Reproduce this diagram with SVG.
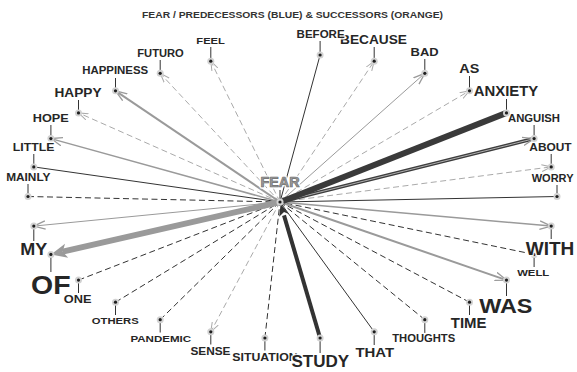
<svg xmlns="http://www.w3.org/2000/svg" width="577" height="372" viewBox="0 0 577 372">
<defs>
<style>
.lbl{font-family:"Liberation Sans",Arial,sans-serif;font-weight:bold;fill:#262626;text-anchor:middle;stroke:#fff;stroke-width:3;stroke-opacity:.85;paint-order:stroke;stroke-linejoin:round}
.title{font-family:"Liberation Sans",Arial,sans-serif;font-weight:bold;fill:#333;text-anchor:middle}
.tick{stroke:#333;stroke-width:1}
.halo{fill:#d2d2d2}
.dot{fill:#1e1e1e}
.sd{stroke:#333;stroke-width:1;fill:none}
.dd{stroke:#333;stroke-width:1;stroke-dasharray:6 3.5;fill:none}
.dl{stroke:#aaa;stroke-width:1;stroke-dasharray:6 3.5;fill:none;marker-end:url(#al)}
.sg{stroke:#9a9a9a;fill:none;marker-end:url(#ag)}
</style>
<marker id="al" viewBox="0 0 10 8" refX="9.5" refY="4" markerWidth="10" markerHeight="8" orient="auto" markerUnits="userSpaceOnUse"><path d="M0,0.6 L9.5,4 L0,7.4" fill="none" stroke="#aaa" stroke-width="1"/></marker>
<marker id="ag" viewBox="0 0 12 10" refX="11.5" refY="5" markerWidth="12" markerHeight="10" orient="auto" markerUnits="userSpaceOnUse"><path d="M0,0.8 L11.5,5 L0,9.2" fill="none" stroke="#9a9a9a" stroke-width="1.3"/></marker>
</defs>
<rect width="577" height="372" fill="#fff"/>
<text class="title" x="292.5" y="17.5" font-size="8.8" textLength="301" lengthAdjust="spacingAndGlyphs">FEAR / PREDECESSORS (BLUE) &amp; SUCCESSORS (ORANGE)</text>
<g id="connectors">
<path class="dd" d="M28,196.5 L280,202"/>
<path class="dd" d="M78.5,280.1 L280,202"/>
<path class="dd" d="M115.5,302.2 L280,202"/>
<path class="dd" d="M160.2,319.7 L280,202"/>
<path class="dd" d="M264.9,338 L280,202"/>
<path class="dd" d="M424.8,319.7 L280,202"/>
<path class="dd" d="M469.5,302.2 L280,202"/>
<path class="dd" d="M534.1,254.4 L280,202"/>
<path class="dl" d="M280,202 L210.8,61.2"/>
<path class="dl" d="M280,202 L160.2,73.3"/>
<path class="dl" d="M280,202 L78.5,112.9"/>
<path class="dl" d="M280,202 L210.8,331.8"/>
<path class="dl" d="M280,202 L374.2,61.2"/>
<path class="dl" d="M280,202 L469.5,90.8"/>
<path class="dl" d="M280,202 L551.2,166.9"/>
<path class="sd" d="M320.1,55 L280,202"/>
<path class="sd" d="M33.8,166.9 L280,202"/>
<path class="sd" d="M557,196.5 L280,202"/>
<path class="sd" d="M374.2,331.8 L280,202"/>
<path class="sg" stroke-width="2" d="M280,202 L115.5,90.8"/>
<path class="sg" stroke-width="1.5" d="M280,202 L50.9,138.6"/>
<path class="sg" stroke-width="1" d="M280,202 L33.8,226.1"/>
<path class="sg" stroke-width="1" d="M280,202 L424.8,73.3"/>
<path class="sg" stroke-width="1.5" d="M280,202 L551.2,226.1"/>
<path class="sg" stroke-width="2" d="M280,202 L506.5,280.1"/>
<path d="M280,202 L62.7,251.7" stroke="#9a9a9a" stroke-width="6" fill="none"/>
<polygon points="51,254.4 65,243.8 62.7,251.7 68.2,257.8" fill="#9a9a9a"/>
<path d="M280,202 L534.1,138.6" stroke="#3d3d3d" stroke-width="3.6" fill="none"/>
<path d="M280,202 L534.1,138.6" stroke="#bbb" stroke-width="0.9" fill="none" marker-end="url(#ag)"/>
<path d="M506.5,112.9 L283,201" stroke="#3a3a3a" stroke-width="6" fill="none"/>
<path d="M320.1,338 L284,215.4" stroke="#333" stroke-width="4" fill="none"/>
<polygon points="280.6,203.9 288.8,214 284,212 279.2,216.8" fill="#333"/>
</g>
<g id="n-fear"><line class="tick" x1="280" y1="190" x2="280" y2="202"/><circle class="halo" cx="280" cy="202" r="3.5"/><circle class="dot" cx="280" cy="202" r="1.6"/><text class="lbl" x="280" y="187" font-size="14" textLength="39" lengthAdjust="spacingAndGlyphs" style="fill:#fff;stroke:#fff;stroke-width:3.5">FEAR</text><text class="lbl" x="280" y="187" font-size="14" textLength="39" lengthAdjust="spacingAndGlyphs" style="fill:#9a9a9a;stroke:#6e6e6e;stroke-width:0.7;stroke-opacity:1;paint-order:normal">FEAR</text></g>
<g id="n-about"><line class="tick" x1="551.2" y1="154" x2="551.2" y2="166.9"/><circle class="halo" cx="551.2" cy="166.9" r="3.5"/><circle class="dot" cx="551.2" cy="166.9" r="1.6"/><text class="lbl" x="550.5" y="150.7" font-size="11.7" textLength="42.3" lengthAdjust="spacingAndGlyphs">ABOUT</text></g>
<g id="n-anguish"><line class="tick" x1="534.1" y1="125" x2="534.1" y2="138.6"/><circle class="halo" cx="534.1" cy="138.6" r="3.5"/><circle class="dot" cx="534.1" cy="138.6" r="1.6"/><text class="lbl" x="534" y="121.7" font-size="11.7" textLength="52" lengthAdjust="spacingAndGlyphs">ANGUISH</text></g>
<g id="n-anxiety"><line class="tick" x1="506.5" y1="99" x2="506.5" y2="112.9"/><circle class="halo" cx="506.5" cy="112.9" r="3.5"/><circle class="dot" cx="506.5" cy="112.9" r="1.6"/><text class="lbl" x="506" y="95.7" font-size="14" textLength="64.5" lengthAdjust="spacingAndGlyphs">ANXIETY</text></g>
<g id="n-as"><line class="tick" x1="469.5" y1="76" x2="469.5" y2="90.8"/><circle class="halo" cx="469.5" cy="90.8" r="3.5"/><circle class="dot" cx="469.5" cy="90.8" r="1.6"/><text class="lbl" x="469.3" y="72.7" font-size="13" textLength="20" lengthAdjust="spacingAndGlyphs">AS</text></g>
<g id="n-bad"><line class="tick" x1="424.8" y1="59" x2="424.8" y2="73.3"/><circle class="halo" cx="424.8" cy="73.3" r="3.5"/><circle class="dot" cx="424.8" cy="73.3" r="1.6"/><text class="lbl" x="424.6" y="55.7" font-size="11.7" textLength="28" lengthAdjust="spacingAndGlyphs">BAD</text></g>
<g id="n-because"><line class="tick" x1="374.2" y1="47" x2="374.2" y2="61.2"/><circle class="halo" cx="374.2" cy="61.2" r="3.5"/><circle class="dot" cx="374.2" cy="61.2" r="1.6"/><text class="lbl" x="373.5" y="44" font-size="13.5" textLength="67" lengthAdjust="spacingAndGlyphs">BECAUSE</text></g>
<g id="n-before"><line class="tick" x1="320.1" y1="41" x2="320.1" y2="55"/><circle class="halo" cx="320.1" cy="55" r="3.5"/><circle class="dot" cx="320.1" cy="55" r="1.6"/><text class="lbl" x="320.6" y="38.3" font-size="10.2" textLength="48" lengthAdjust="spacingAndGlyphs">BEFORE</text></g>
<g id="n-feel"><line class="tick" x1="210.8" y1="47" x2="210.8" y2="61.2"/><circle class="halo" cx="210.8" cy="61.2" r="3.5"/><circle class="dot" cx="210.8" cy="61.2" r="1.6"/><text class="lbl" x="210.6" y="44.3" font-size="9.8" textLength="28.5" lengthAdjust="spacingAndGlyphs">FEEL</text></g>
<g id="n-futuro"><line class="tick" x1="160.2" y1="60" x2="160.2" y2="73.3"/><circle class="halo" cx="160.2" cy="73.3" r="3.5"/><circle class="dot" cx="160.2" cy="73.3" r="1.6"/><text class="lbl" x="160.5" y="56.7" font-size="10.7" textLength="46.5" lengthAdjust="spacingAndGlyphs">FUTURO</text></g>
<g id="n-happiness"><line class="tick" x1="115.5" y1="78" x2="115.5" y2="90.8"/><circle class="halo" cx="115.5" cy="90.8" r="3.5"/><circle class="dot" cx="115.5" cy="90.8" r="1.6"/><text class="lbl" x="115.2" y="74.3" font-size="10.6" textLength="66" lengthAdjust="spacingAndGlyphs">HAPPINESS</text></g>
<g id="n-happy"><line class="tick" x1="78.5" y1="100" x2="78.5" y2="112.9"/><circle class="halo" cx="78.5" cy="112.9" r="3.5"/><circle class="dot" cx="78.5" cy="112.9" r="1.6"/><text class="lbl" x="78" y="96.7" font-size="13" textLength="47" lengthAdjust="spacingAndGlyphs">HAPPY</text></g>
<g id="n-hope"><line class="tick" x1="50.9" y1="125" x2="50.9" y2="138.6"/><circle class="halo" cx="50.9" cy="138.6" r="3.5"/><circle class="dot" cx="50.9" cy="138.6" r="1.6"/><text class="lbl" x="50.8" y="121.7" font-size="11.7" textLength="36" lengthAdjust="spacingAndGlyphs">HOPE</text></g>
<g id="n-little"><line class="tick" x1="33.8" y1="154" x2="33.8" y2="166.9"/><circle class="halo" cx="33.8" cy="166.9" r="3.5"/><circle class="dot" cx="33.8" cy="166.9" r="1.6"/><text class="lbl" x="33.6" y="150.7" font-size="11.2" textLength="41.5" lengthAdjust="spacingAndGlyphs">LITTLE</text></g>
<g id="n-mainly"><line class="tick" x1="28" y1="184" x2="28" y2="196.5"/><circle class="halo" cx="28" cy="196.5" r="3.5"/><circle class="dot" cx="28" cy="196.5" r="1.6"/><text class="lbl" x="28.3" y="181" font-size="10.7" textLength="44.3" lengthAdjust="spacingAndGlyphs">MAINLY</text></g>
<g id="n-my"><line class="tick" x1="33.8" y1="226.1" x2="33.8" y2="241"/><circle class="halo" cx="33.8" cy="226.1" r="3.5"/><circle class="dot" cx="33.8" cy="226.1" r="1.6"/><text class="lbl" x="33.7" y="255" font-size="16.3" textLength="27" lengthAdjust="spacingAndGlyphs">MY</text></g>
<g id="n-of"><line class="tick" x1="50.9" y1="254.4" x2="50.9" y2="272"/><circle class="halo" cx="50.9" cy="254.4" r="3.5"/><circle class="dot" cx="50.9" cy="254.4" r="1.6"/><text class="lbl" x="50.8" y="294" font-size="26.5" textLength="39.5" lengthAdjust="spacingAndGlyphs">OF</text></g>
<g id="n-one"><line class="tick" x1="78.5" y1="280.1" x2="78.5" y2="293"/><circle class="halo" cx="78.5" cy="280.1" r="3.5"/><circle class="dot" cx="78.5" cy="280.1" r="1.6"/><text class="lbl" x="77.7" y="303.3" font-size="11.6" textLength="27.7" lengthAdjust="spacingAndGlyphs">ONE</text></g>
<g id="n-others"><line class="tick" x1="115.5" y1="302.2" x2="115.5" y2="315"/><circle class="halo" cx="115.5" cy="302.2" r="3.5"/><circle class="dot" cx="115.5" cy="302.2" r="1.6"/><text class="lbl" x="115.3" y="324.3" font-size="9.8" textLength="47" lengthAdjust="spacingAndGlyphs">OTHERS</text></g>
<g id="n-pandemic"><line class="tick" x1="160.2" y1="319.7" x2="160.2" y2="332.5"/><circle class="halo" cx="160.2" cy="319.7" r="3.5"/><circle class="dot" cx="160.2" cy="319.7" r="1.6"/><text class="lbl" x="160.8" y="341.7" font-size="9.8" textLength="60.7" lengthAdjust="spacingAndGlyphs">PANDEMIC</text></g>
<g id="n-sense"><line class="tick" x1="210.8" y1="331.8" x2="210.8" y2="344.5"/><circle class="halo" cx="210.8" cy="331.8" r="3.5"/><circle class="dot" cx="210.8" cy="331.8" r="1.6"/><text class="lbl" x="210.5" y="355" font-size="11.6" textLength="40" lengthAdjust="spacingAndGlyphs">SENSE</text></g>
<g id="n-situation"><line class="tick" x1="264.9" y1="338" x2="264.9" y2="350.5"/><circle class="halo" cx="264.9" cy="338" r="3.5"/><circle class="dot" cx="264.9" cy="338" r="1.6"/><text class="lbl" x="265" y="360.7" font-size="11.2" textLength="65.4" lengthAdjust="spacingAndGlyphs">SITUATION</text></g>
<g id="n-study"><line class="tick" x1="320.1" y1="338" x2="320.1" y2="353"/><circle class="halo" cx="320.1" cy="338" r="3.5"/><circle class="dot" cx="320.1" cy="338" r="1.6"/><text class="lbl" x="320.3" y="366.7" font-size="16.3" textLength="57.7" lengthAdjust="spacingAndGlyphs">STUDY</text></g>
<g id="n-that"><line class="tick" x1="374.2" y1="331.8" x2="374.2" y2="345"/><circle class="halo" cx="374.2" cy="331.8" r="3.5"/><circle class="dot" cx="374.2" cy="331.8" r="1.6"/><text class="lbl" x="374.8" y="356.7" font-size="13" textLength="38.7" lengthAdjust="spacingAndGlyphs">THAT</text></g>
<g id="n-thoughts"><line class="tick" x1="424.8" y1="319.7" x2="424.8" y2="333"/><circle class="halo" cx="424.8" cy="319.7" r="3.5"/><circle class="dot" cx="424.8" cy="319.7" r="1.6"/><text class="lbl" x="423.7" y="342.3" font-size="10.2" textLength="63" lengthAdjust="spacingAndGlyphs">THOUGHTS</text></g>
<g id="n-time"><line class="tick" x1="469.5" y1="302.2" x2="469.5" y2="315"/><circle class="halo" cx="469.5" cy="302.2" r="3.5"/><circle class="dot" cx="469.5" cy="302.2" r="1.6"/><text class="lbl" x="468.7" y="327.7" font-size="14.5" textLength="35.7" lengthAdjust="spacingAndGlyphs">TIME</text></g>
<g id="n-was"><line class="tick" x1="506.5" y1="280.1" x2="506.5" y2="296"/><circle class="halo" cx="506.5" cy="280.1" r="3.5"/><circle class="dot" cx="506.5" cy="280.1" r="1.6"/><text class="lbl" x="505.8" y="313.3" font-size="21" textLength="53.3" lengthAdjust="spacingAndGlyphs">WAS</text></g>
<g id="n-well"><line class="tick" x1="534.1" y1="254.4" x2="534.1" y2="267"/><circle class="halo" cx="534.1" cy="254.4" r="3.5"/><circle class="dot" cx="534.1" cy="254.4" r="1.6"/><text class="lbl" x="533.2" y="276" font-size="9.4" textLength="32" lengthAdjust="spacingAndGlyphs">WELL</text></g>
<g id="n-with"><line class="tick" x1="551.2" y1="226.1" x2="551.2" y2="239"/><circle class="halo" cx="551.2" cy="226.1" r="3.5"/><circle class="dot" cx="551.2" cy="226.1" r="1.6"/><text class="lbl" x="550" y="255" font-size="18.5" textLength="48.5" lengthAdjust="spacingAndGlyphs">WITH</text></g>
<g id="n-worry"><line class="tick" x1="557" y1="185" x2="557" y2="196.5"/><circle class="halo" cx="557" cy="196.5" r="3.5"/><circle class="dot" cx="557" cy="196.5" r="1.6"/><text class="lbl" x="573.5" y="181.7" font-size="11" style="text-anchor:end">WORRY</text></g>
</svg>
